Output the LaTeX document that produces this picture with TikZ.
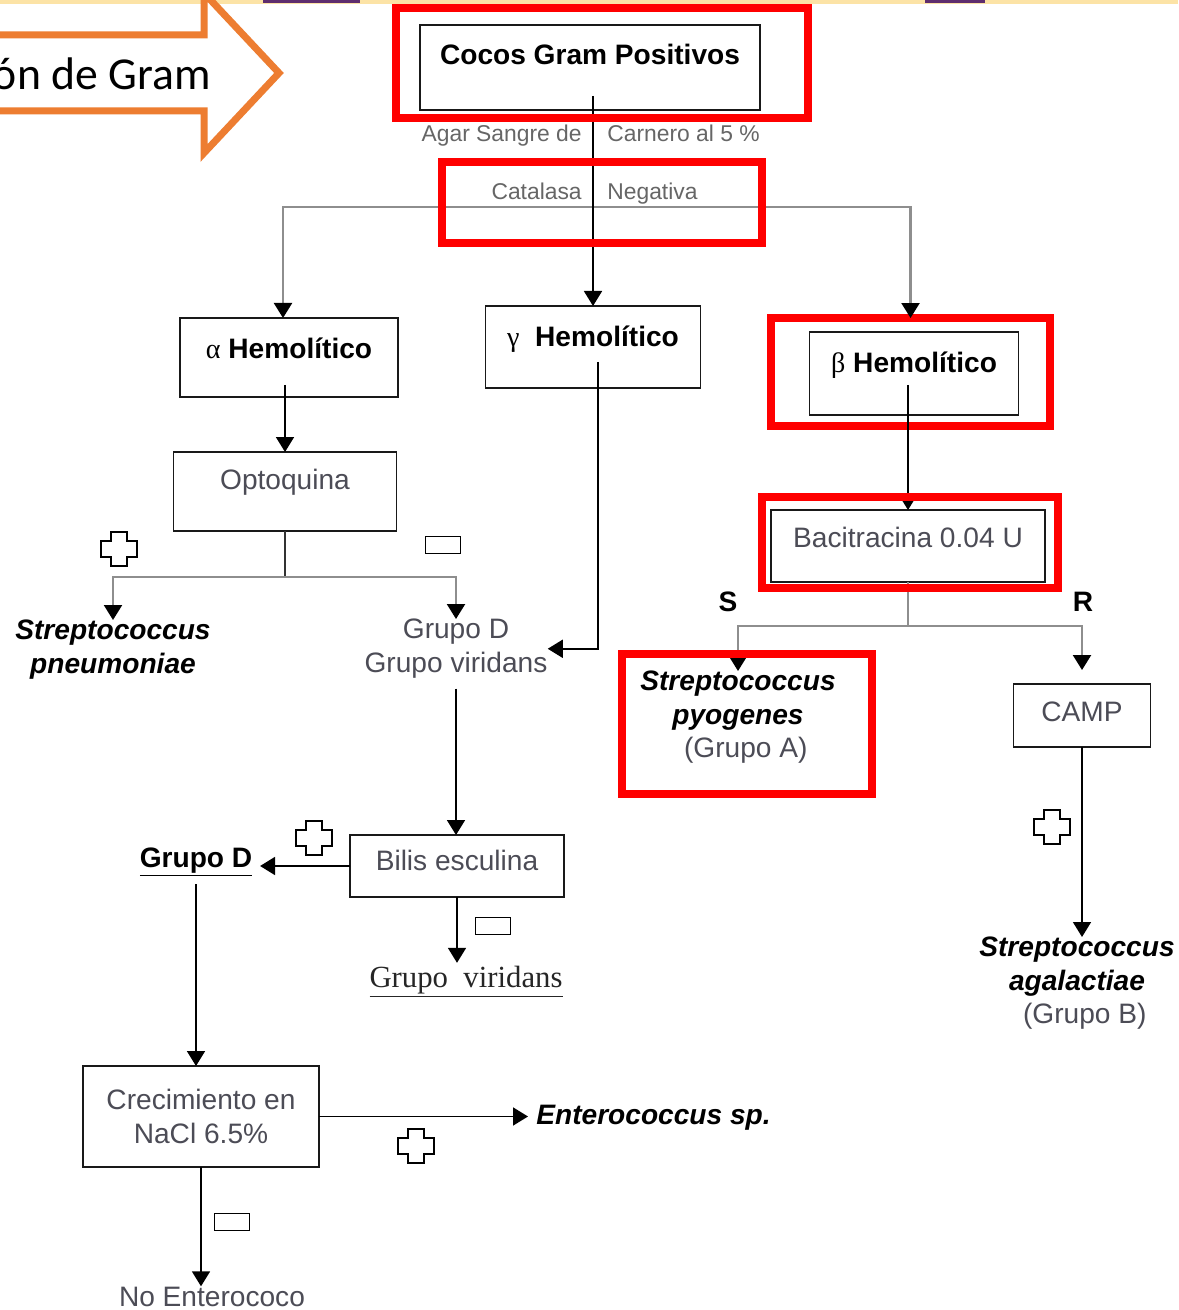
\documentclass[tikz,border=0pt]{standalone}
\usepackage{fontspec}
\setmainfont{Liberation Sans}
\newfontfamily\serifa{Liberation Serif}
\newfontfamily\calibri{Carlito}
\usepackage{tikz}
\usetikzlibrary{arrows.meta}
\definecolor{naranja}{HTML}{ED7D31}
\definecolor{rojo}{HTML}{FF0000}
\definecolor{grisrama}{HTML}{8E8E8E}
\definecolor{gristexto}{HTML}{4C4C56}
\definecolor{grisclaro}{HTML}{666666}
\definecolor{franja}{HTML}{FCE3A6}
\definecolor{morado}{HTML}{5E2D6E}

\begin{document}
\begin{tikzpicture}[x = 0.02cm, y = -0.02cm]
				\tikzset{caja/.style = {draw = black!90, line width = 1pt, inner sep = 0pt, outer sep = 0pt, anchor = north, font = \fontsize{16}{19}\selectfont, text = gristexto},
				negra/.style = {font = \fontsize{16}{19}\selectfont\bfseries, text = black},
				etiqueta/.style = {font = \fontsize{13}{15}\selectfont, text = grisclaro, inner sep = 0pt},
				especie/.style = {font = \fontsize{16}{19}\selectfont\bfseries\itshape, align = center, inner sep = 0pt, anchor = north},
				resultado/.style = {font = \fontsize{16}{19}\selectfont, text = gristexto, align = center, inner sep = 0pt},
				marco/.style = {draw = rojo, line width = 0.16cm, inner sep = 0pt, outer sep = 0pt},
				menos/.style = {draw, line width = 1.1pt, minimum width = 0.7cm, minimum height = 0.34cm, inner sep = 0pt},
				flecha/.style = {line width = 1pt, -{Triangle[width = 0.36cm, length = 0.3cm]}},
				rama/.style = {grisrama, line width = 1.3pt, -{Triangle[width = 0.36cm, length = 0.3cm, color = black]}},
				pics/mas/.style = {code = {\draw[line width = 1.1pt] (-8,-17) -- (8,-17) -- (8,-8) -- (18,-8) -- (18,8) -- (8,8) -- (8,17) -- (-8,17) -- (-8,8) -- (-18,8) -- (-18,-8) -- (-8,-8) -- cycle;}}}
				
				\useasboundingbox (0,0) rectangle (1178,1310);
				\clip (0,0) rectangle (1178,1310);
				\fill[white] (0,0) rectangle (1178,1310);
				\fill[franja] (0,0) rectangle (1178,4);
				\fill[morado] (263,0) rectangle (360,3);
				\fill[morado] (925,0) rectangle (985,3);
				
				% flecha de la tincion
				\draw[naranja, line width = 0.14cm, fill = white] (-30,35) -- (204,35) -- (204,-7) -- (279,73) -- (204,153) -- (204,111) -- (-30,111) -- cycle;
				\node[font = \calibri\fontsize{26}{30}\selectfont, anchor = base east, inner sep = 0pt] (gram) at (211,90) {ón de Gram};
				
				% cajas
				\node[caja, minimum width = 6.8cm, text height = 0.8cm, text depth = 0.9cm, font = \fontsize{16}{19}\selectfont\bfseries, text = black] (cocos) at (590,25) {Cocos Gram Positivos};
				\node[caja, minimum width = 4.36cm, text height = 0.82cm, text depth = 0.76cm, font = \fontsize{16}{19}\selectfont\bfseries, text = black] (alfa) at (289,318) {{\serifa\mdseries α} Hemolítico};
				\node[caja, minimum width = 4.3cm, text height = 0.82cm, text depth = 0.82cm, font = \fontsize{16}{19}\selectfont\bfseries, text = black] (gamma) at (593,306) {{\serifa\mdseries γ}\ \ Hemolítico};
				\node[caja, minimum width = 4.18cm, text height = 0.82cm, text depth = 0.84cm, font = \fontsize{16}{19}\selectfont\bfseries, text = black] (beta) at (914,332) {{\serifa\mdseries β} Hemolítico};
				\node[caja, minimum width = 4.46cm, text height = 0.76cm, text depth = 0.82cm] (opto) at (285,452) {Optoquina};
				\node[caja, minimum width = 5.48cm, text height = 0.76cm, text depth = 0.68cm] (baci) at (908,510) {Bacitracina 0.04 U};
				\node[caja, minimum width = 2.74cm, text height = 0.76cm, text depth = 0.5cm] (camp) at (1082,684) {CAMP};
				\node[caja, minimum width = 4.28cm, text height = 0.7cm, text depth = 0.54cm] (bilis) at (457,835) {Bilis esculina};
				\node[caja, minimum width = 4.72cm, minimum height = 2.02cm, align = center] (nacl) at (201,1066) {Crecimiento en\\NaCl 6.5\%};
				
				% textos
				\node[etiqueta, anchor = base east] (agar) at (582,142) {Agar Sangre de};
				\node[etiqueta, anchor = base west] (carnero) at (607,142) {Carnero al 5 \%};
				\node[etiqueta, anchor = base east] (catal) at (582,200) {Catalasa};
				\node[etiqueta, anchor = base west] (negat) at (607,200) {Negativa};
				
				\node[especie] (neumo) at (113,620) {Streptococcus\\pneumoniae};
				\node[resultado, anchor = north] (gdvir) at (456,619) {Grupo D\\Grupo viridans};
				\node[especie] (pyog) at (738,671) {Streptococcus\\pyogenes\\{\mdseries\upshape\color{gristexto}\ \ (Grupo A)}};
				\node[especie] (agal) at (1077,937) {Streptococcus\\agalactiae\\{\mdseries\upshape\color{gristexto}\ \ (Grupo B)}};
				\node[negra, anchor = base, inner sep = 0pt] (s) at (728,611) {S};
				\node[negra, anchor = base, inner sep = 0pt] (r) at (1083,611) {R};
				\node[negra, anchor = base, inner sep = 0.15cm] (grupod) at (196,867) {\underline{Grupo D}};
				\node[font = \serifa\fontsize{17.5}{20}\selectfont, text = black!85, anchor = base, inner sep = 0.05cm] (viridans) at (466,987) {\underline{Grupo\ \ viridans}};
				\node[especie, anchor = base west, inner sep = 0.16cm] (entero) at (528,1124) {Enterococcus sp.};
				\node[resultado, anchor = base] (noentero) at (212,1306) {No Enterococo};
				
				% conectores
				\coordinate (catalasa) at (593,207);
				\coordinate (optorama) at (285,577);
				\coordinate (bacirama) at (908,626);
				
				\node[marco, minimum width = 5.58cm, minimum height = 2.16cm] (marcobeta) at (910.5,372) {};
				
				\draw[rama] (catalasa) -| ([xshift = -0.12cm]alfa.north);
				\draw[rama] (catalasa) -| (marcobeta.north);
				\draw[flecha] ([yshift = 0.28cm]cocos.south -| gamma.north) to (gamma.north);
				
				\draw[flecha] ([yshift = 0.24cm]alfa.south -| opto.north) to (opto.north);
				\draw[line width = 1pt, black!80] (opto.south) to (optorama);
				\draw[rama] (optorama) -| (neumo.north);
				\draw[rama] (optorama) -| (gdvir.north);
				
				\draw[flecha] ([yshift = 0.52cm]gamma.south -| 598,0) |- (gdvir.east);
				\draw[flecha] ([yshift = -0.2cm]gdvir.south) to (gdvir.south |- bilis.north);
				\draw[flecha] (bilis.west) to (bilis.west -| grupod.east);
				\draw[flecha] (bilis.south) to (bilis.south |- viridans.north);
				\draw[flecha] (grupod.south) to (grupod.south |- nacl.north);
				\draw[flecha] (nacl.east) to (nacl.east -| entero.west);
				\draw[flecha] (nacl.south) to (nacl.south |- noentero.north);
				
				\draw[flecha] ([yshift = 0.6cm]beta.south -| baci.north) to (baci.north);
				\draw[grisrama, line width = 1.3pt] (baci.south) to (bacirama);
				\draw[rama] (bacirama) -| (pyog.north);
				\draw[rama] (bacirama) -| ([yshift = 0.28cm]camp.north);
				\draw[flecha] (camp.south) to (camp.south |- agal.north);
				
				% signos
				\pic at (119,549) {mas};
				\pic at (314,838) {mas};
				\pic at (1052,827) {mas};
				\pic at (416,1146) {mas};
				\node[menos] (menos1) at (443,545) {};
				\node[menos] (menos2) at (493,926) {};
				\node[menos] (menos3) at (232,1222) {};
				
				% recuadros rojos
				\node[marco, minimum width = 8.24cm, minimum height = 2.2cm] (marcococos) at (602,63) {};
				\node[marco, minimum width = 6.4cm, minimum height = 1.62cm] (marcocatal) at (602,202.5) {};
				\node[marco, minimum width = 5.92cm, minimum height = 1.82cm] (marcobaci) at (910,542.5) {};
				\node[marco, minimum width = 5.0cm, minimum height = 2.8cm] (marcopyog) at (747,724) {};
				
			\end{tikzpicture}
\end{document}
